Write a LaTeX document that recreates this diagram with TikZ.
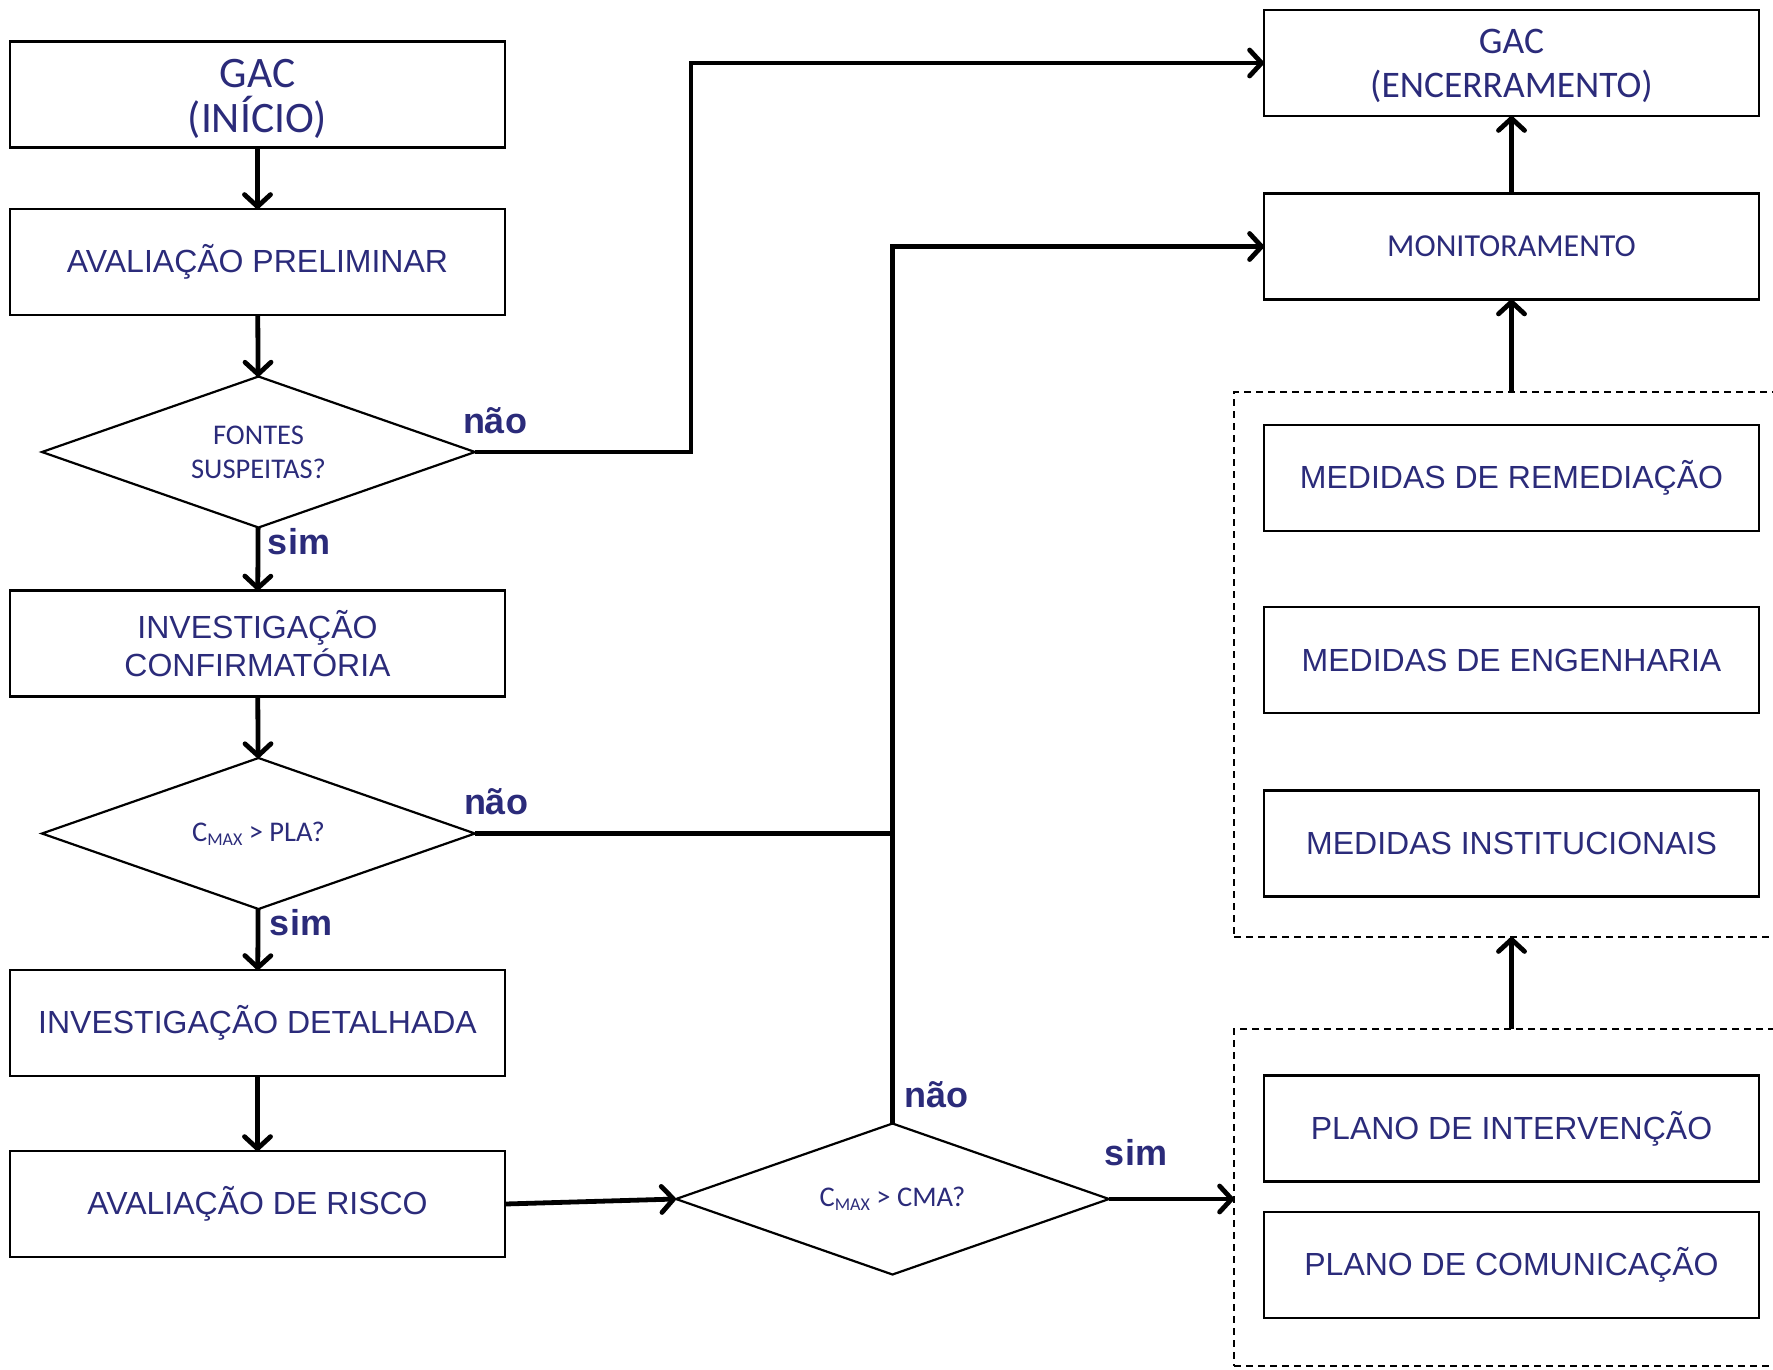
\documentclass[tikz,border=0pt]{standalone}
\usepackage{fontspec}
\setmainfont{Liberation Sans}
\newfontfamily\calib{Carlito}
\usetikzlibrary{shapes.geometric,arrows.meta}
\definecolor{ink}{HTML}{2B2B7A}

\begin{document}
\begin{tikzpicture}[x=1pt,y=-1pt,
  box/.style={draw, line width=2.2pt, minimum width=495pt, minimum height=106pt,
    inner sep=0pt, outer sep=0pt, text=ink, align=center,
    font=\fontsize{32}{38}\selectfont},
  cbox/.style={box, font=\calib\fontsize{32}{38}\selectfont},
  dec/.style={draw, diamond, aspect=2.87, line width=2.2pt, minimum width=433pt,
    minimum height=151pt, inner sep=0pt, outer sep=0pt, text=ink, align=center,
    font=\calib\fontsize{28.5}{34}\selectfont},
  grp/.style={draw, dash pattern=on 7pt off 5pt, line width=1.6pt,
    inner sep=0pt, outer sep=0pt},
  link/.style={line width=4.8pt},
  arr/.style={link, -{Straight Barb[length=12pt,width=26pt,round]}},
  lbl/.style={text=ink, inner sep=0pt, font=\bfseries\fontsize{36}{36}\selectfont}
]
\useasboundingbox (0,0) rectangle (1773,1369);
\clip (0,0) rectangle (1773,1369);

\newcommand{\cmaxsub}{C\raisebox{-0.28ex}{\fontsize{18}{18}\selectfont MAX}}

% left column
\node[cbox, font=\calib\fontsize{43.5}{45}\selectfont] (b1) at (257.5,94.5)
  {\rule{0pt}{37.5pt}GAC\\(INÍCIO)};
\node[box] (b2) at (257.5,262) {AVALIAÇÃO PRELIMINAR};
\node[dec] (d1) at (258.5,452) {FONTES\\SUSPEITAS?};
\node[box] (b3) at (257.5,643.5) {INVESTIGAÇÃO\\CONFIRMATÓRIA};
\node[dec] (d2) at (258.5,833.5) {\cmaxsub{} > PLA?};
\node[box] (b4) at (257.5,1023) {INVESTIGAÇÃO DETALHADA};
\node[box] (b5) at (257.5,1204) {AVALIAÇÃO DE RISCO};

% decision on the bottom
\node[dec] (d3) at (892.5,1199) {\cmaxsub{} > CMA?};

% right column
\node[cbox, font=\calib\fontsize{37.5}{44}\selectfont] (gace) at (1511.5,63)
  {\rule{0pt}{30.5pt}GAC\\(ENCERRAMENTO)};
\node[cbox, font=\calib\fontsize{32}{34}\selectfont] (mon) at (1511.5,246.5) {MONITORAMENTO};

\node[grp, minimum width=570pt, minimum height=545pt] (g1) at (1519,664.5) {};
\node[box] (m1) at (1511.5,478) {MEDIDAS DE REMEDIAÇÃO};
\node[box] (m2) at (1511.5,660) {MEDIDAS DE ENGENHARIA};
\node[box] (m3) at (1511.5,843.5) {MEDIDAS INSTITUCIONAIS};

\node[grp, minimum width=570pt, minimum height=337pt] (g2) at (1519,1197.5) {};
\node[box] (p1) at (1511.5,1128.5) {PLANO DE INTERVENÇÃO};
\node[box] (p2) at (1511.5,1265) {PLANO DE COMUNICAÇÃO};

% turning point of the upper "não" branch
\coordinate (k1) at (691,63);

% connectors
\draw[arr] (b1.south) -- (b2.north);
\draw[arr] (b2) -- (d1);
\draw[arr] (d1) -- (b3);
\draw[arr] (b3) -- (d2);
\draw[arr] (d2) -- (b4);
\draw[arr] (b4) -- (b5);
\draw[arr] (b5.east) -- (d3.west);

\draw[arr] (d1.east) -| (k1) -- (gace.west);
\draw[link] (d2.east) -- (d2.east -| d3.north);
\draw[arr] (d3.north) |- (mon.west);
\draw[arr] (d3.east) -- (d3.east -| g2.west);

\draw[arr] (g2.north -| mon.south) -- (g1.south -| mon.south);
\draw[arr] (g1.north -| mon.south) -- (mon.south);
\draw[arr] (mon) -- (gace);

% branch labels
\node[lbl] (n1) at (495,421) {não};
\node[lbl] (s1) at (299,542) {sim};
\node[lbl] (n2) at (496,802) {não};
\node[lbl] (s2) at (301,923) {sim};
\node[lbl] (n3) at (936,1095) {não};
\node[lbl] (s3) at (1136,1153) {sim};
\end{tikzpicture}
\end{document}
